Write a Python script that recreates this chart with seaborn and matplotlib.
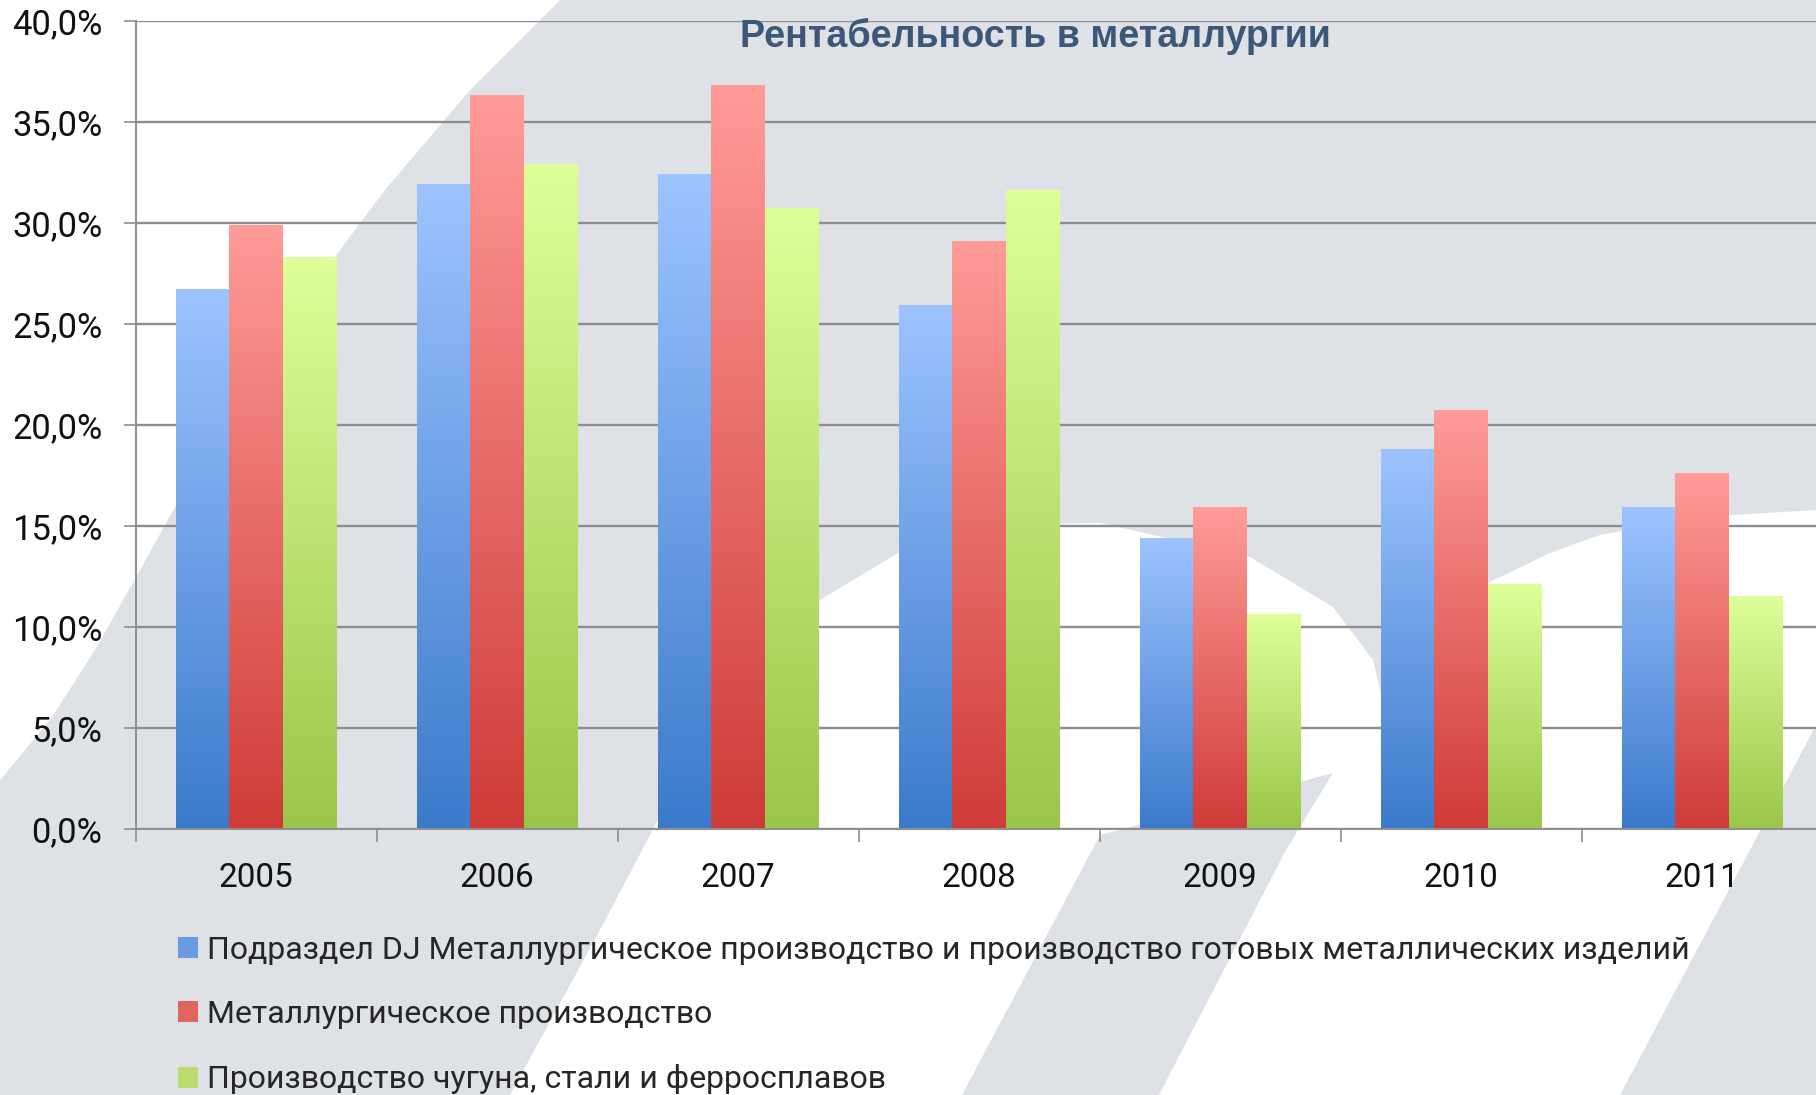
import numpy as np
import pandas as pd
import seaborn as sns
import matplotlib.pyplot as plt
from matplotlib.patches import Polygon, Patch
from matplotlib.colors import to_rgb
from matplotlib.font_manager import FontProperties
from matplotlib.textpath import TextPath

years = ['2005', '2006', '2007', '2008', '2009', '2010', '2011']
dj_total = [26.7, 31.9, 32.4, 25.9, 14.4, 18.8, 15.9]
metallurgy = [29.9, 36.3, 36.8, 29.1, 15.9, 20.7, 17.6]
iron_steel = [28.3, 32.9, 30.7, 31.6, 10.6, 12.1, 11.5]

series_names = [
    'Подраздел DJ Металлургическое производство и производство готовых металлических изделий',
    'Металлургическое производство',
    'Производство чугуна, стали и ферросплавов',
]
title = 'Рентабельность в металлургии'
y_ticks = [0, 5, 10, 15, 20, 25, 30, 35, 40]

# (top, bottom) of each bar gradient, plus flat colours for legend keys
grad_colors = [('#9DC4FF', '#3B7ACB'), ('#FF9C98', '#CF3B38'), ('#DEFF99', '#9AC649')]
flat_colors = ['#6A9BE2', '#E2645F', '#BCDC70']

df = pd.DataFrame({
    'year': years * 3,
    'value': dj_total + metallurgy + iron_steel,
    'series': [n for n in series_names for _ in years],
})

sns.set_theme(style='white')
plt.rcParams['font.family'] = ['Roboto', 'DejaVu Sans']

W, H = 1816, 1095
DPI = 100


def fit_size(text, target_px, family, weight='normal'):
    # font size (pt) that makes the inked text target_px wide
    prop = FontProperties(family=family, weight=weight, size=100)
    ext = TextPath((0, 0), text, prop=prop).get_extents()
    return 100 * target_px / (ext.width * DPI / 72)


tick_size = fit_size('2005', 72, 'Roboto')
ylab_size = fit_size('40,0%', 88, 'Roboto')
leg_size = fit_size(series_names[0], 1479, 'Roboto')
title_size = fit_size(title, 585, 'Liberation Sans', 'bold')

fig = plt.figure(figsize=(W / DPI, H / DPI), dpi=DPI)
fig.patch.set_facecolor('#DEE1E6')

# faint logo shapes in the slide background
bg = fig.add_axes([0, 0, 1, 1], zorder=0)
bg.set_xlim(0, W)
bg.set_ylim(H, 0)
bg.axis('off')
white_shapes = [
    [(0, 0), (560, 0), (470, 90), (385, 190), (310, 290), (245, 385), (190, 480),
     (140, 570), (95, 650), (50, 720), (0, 780)],
    [(510, 1095), (600, 930), (700, 740), (760, 660), (820, 600), (900, 552), (1000, 525),
     (1100, 523), (1250, 557), (1333, 607), (1373, 660), (1392, 740), (1410, 680),
     (1450, 620), (1490, 582), (1550, 553), (1600, 535), (1700, 517), (1816, 510),
     (1816, 725), (1750, 850), (1620, 1095)],
]
gray_shapes = [
    [(962, 1095), (1100, 835), (1333, 773), (1286, 850), (1159, 1095)],
]
for pts in white_shapes:
    bg.add_patch(Polygon(pts, closed=True, facecolor='white', edgecolor='none'))
for pts in gray_shapes:
    bg.add_patch(Polygon(pts, closed=True, facecolor='#DEE1E6', edgecolor='none'))

ax = fig.add_axes([135.5 / W, 1 - 829 / H, 7 * 241 / W, 808 / H], zorder=1)
ax.patch.set_alpha(0)

sns.barplot(data=df, x='year', y='value', hue='series', palette=flat_colors,
            width=0.663, saturation=1, legend=False, ax=ax)

# vertical gradient on each bar
flat_rgb = [np.array(to_rgb(c)) for c in flat_colors]
for bar in list(ax.patches):
    fc = np.array(bar.get_facecolor()[:3])
    idx = int(np.argmin([np.abs(fc - c).sum() for c in flat_rgb]))
    top, bot = grad_colors[idx]
    t = np.linspace(0, 1, 256)[:, None]
    grad = (1 - t) * np.array(to_rgb(top)) + t * np.array(to_rgb(bot))
    x0, w, h = bar.get_x(), bar.get_width(), bar.get_height()
    ax.imshow(grad[:, None, :], extent=[x0, x0 + w, 0, h], origin='upper',
              aspect='auto', zorder=2, interpolation='bilinear')
    bar.set_facecolor('none')
    bar.set_edgecolor('none')

ax.set_xlim(-0.5, 6.5)
ax.set_ylim(0, 40)
ax.set_xlabel('')
ax.set_ylabel('')

grid_col = '#8E8E8E'
ax.set_yticks(y_ticks)
ax.set_yticklabels([f'{v:.1f}%'.replace('.', ',') for v in y_ticks])
ax.yaxis.grid(True, color=grid_col, lw=1.7)
ax.set_axisbelow(True)
ax.set_xticks(np.arange(-0.5, 7, 1), minor=True)

ax.tick_params(axis='y', left=True, length=9, width=1.2, color=grid_col, pad=15,
               labelsize=ylab_size, labelcolor='#111111')
ax.tick_params(axis='x', which='major', length=0, pad=24, labelsize=tick_size,
               labelcolor='#111111')
ax.tick_params(axis='x', which='minor', bottom=True, length=9, width=1.2, color=grid_col)

for side in ['top', 'right']:
    ax.spines[side].set_visible(False)
for side in ['left', 'bottom']:
    ax.spines[side].set_color(grid_col)
    ax.spines[side].set_linewidth(1.4)

fig.text(1035 / W, 1 - 47 / H, title, ha='center', va='baseline', fontsize=title_size,
         fontweight='bold', color='#3D5778', family=['Liberation Sans', 'DejaVu Sans'])

# legend: 20 px square keys, rows 64 px apart
leg_px = leg_size * DPI / 72
handles = [Patch(facecolor=c, edgecolor='none') for c in flat_colors]
fig.legend(handles, series_names, loc='center left', bbox_to_anchor=(178 / W, 1 - 1015 / H),
           frameon=False, fontsize=leg_size, handlelength=20 / leg_px,
           handleheight=20 / leg_px, handletextpad=9 / leg_px,
           labelspacing=(73 - 1.17 * leg_px) / leg_px, borderpad=0, borderaxespad=0)

fig.savefig('out.png', dpi=DPI, facecolor=fig.get_facecolor())
